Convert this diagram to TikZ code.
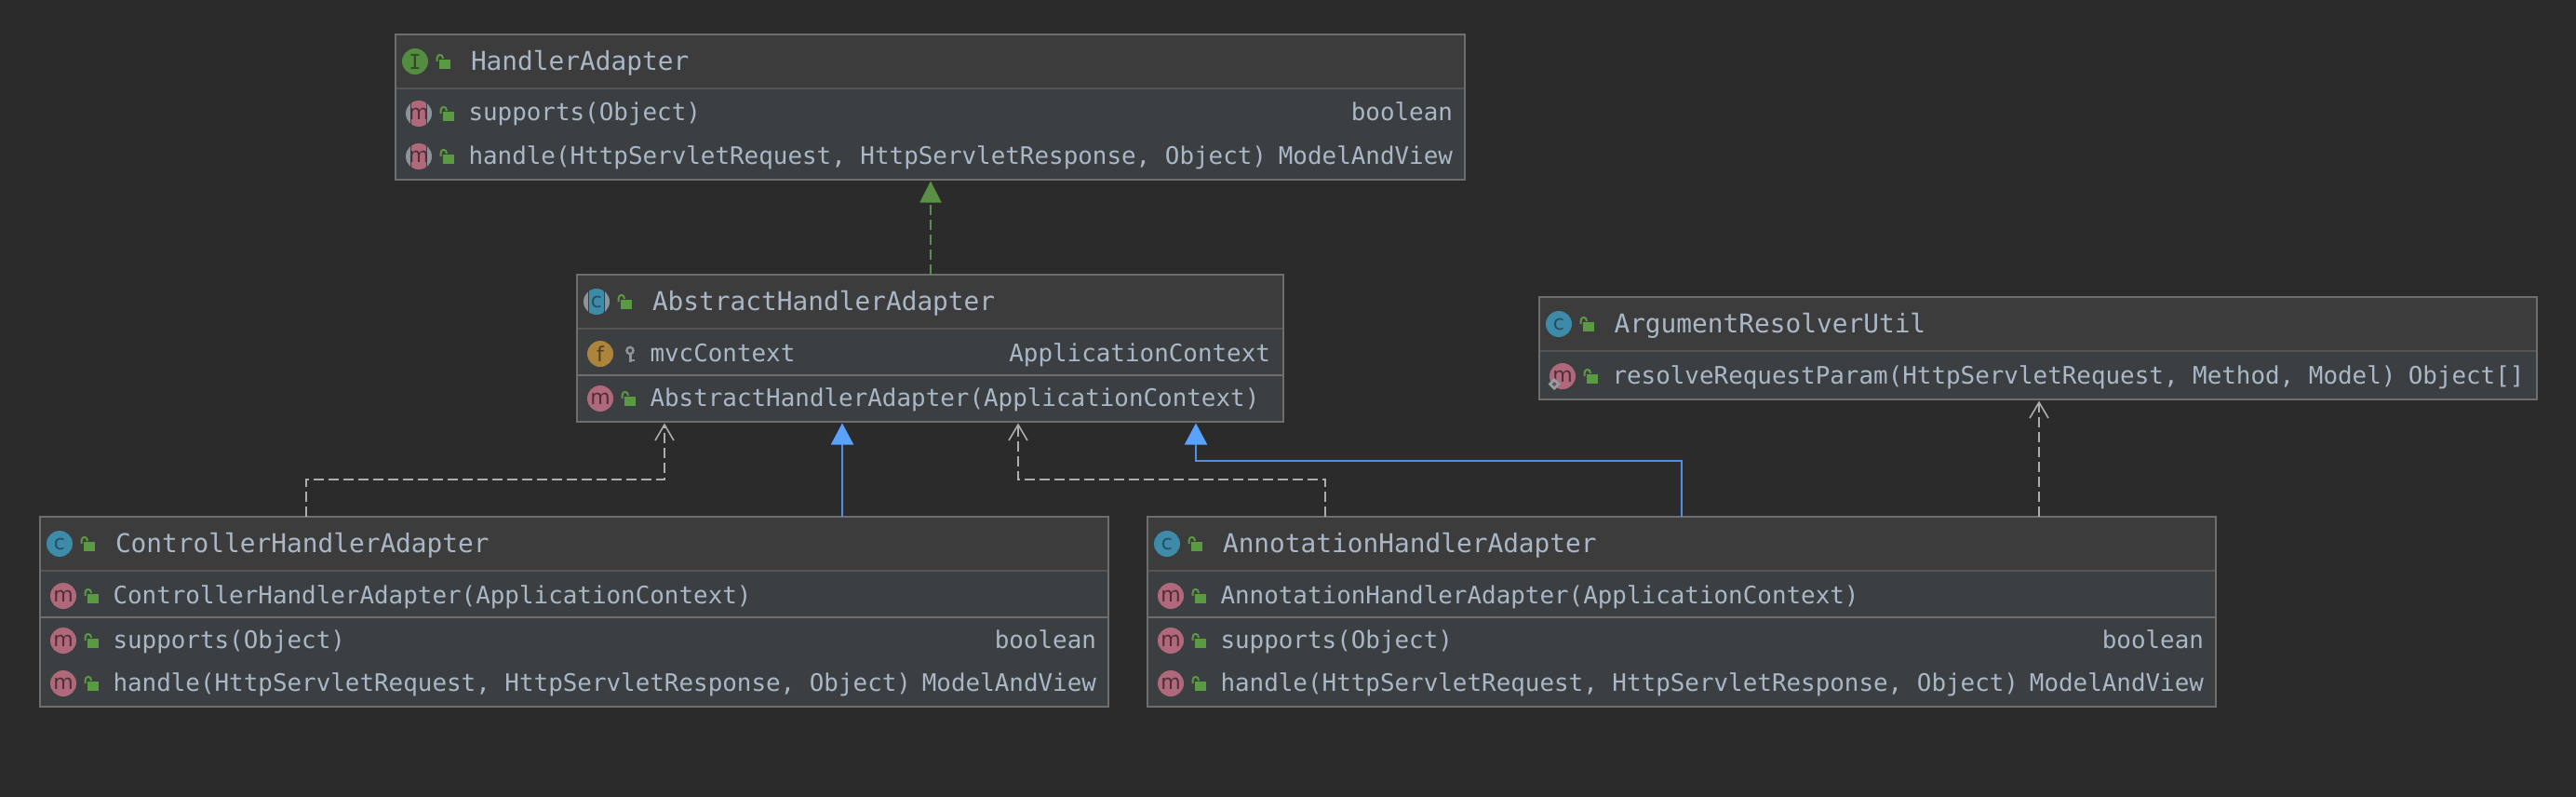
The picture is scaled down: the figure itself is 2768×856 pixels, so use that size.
\documentclass[tikz,border=0pt]{standalone}
\usepackage{fontspec}
\usetikzlibrary{arrows.meta}
\newfontfamily\umono{DejaVu Sans Mono}
\newfontfamily\uicf{DejaVu Sans}
\definecolor{bgc}{HTML}{2B2B2B}
\definecolor{headc}{HTML}{3C3C3C}
\definecolor{bodyc}{HTML}{3C3F41}
\definecolor{borderc}{HTML}{6E6E6E}
\definecolor{sepc}{HTML}{555555}
\definecolor{txtc}{HTML}{A9B7C6}
\definecolor{lockc}{HTML}{5A9A42}
\definecolor{keyc}{HTML}{8A9499}
\definecolor{mcol}{HTML}{B0697B}
\definecolor{mtxt}{HTML}{4F2E37}
\definecolor{ccol}{HTML}{3E8BA9}
\definecolor{ctxt}{HTML}{234F62}
\definecolor{icol}{HTML}{548D3F}
\definecolor{itxt}{HTML}{2E4A24}
\definecolor{fcol}{HTML}{AC843C}
\definecolor{ftxt}{HTML}{52401F}
\definecolor{depc}{HTML}{ADADAD}
\definecolor{bluel}{HTML}{4F8FE6}
\definecolor{bluet}{HTML}{5AA2FF}
\definecolor{greenl}{HTML}{5A8F45}
\tikzset{
  umlbox/.style={draw=borderc,line width=2pt,anchor=north west,inner sep=0pt,outer sep=0pt},
  utext/.style={text=txtc,font=\umono\fontsize{25.9}{30}\selectfont,inner sep=0pt,outer sep=0pt},
  uleft/.style={utext,anchor=base west},
  uright/.style={utext,anchor=base east},
  utitle/.style={utext,anchor=base west,font=\umono\fontsize{27.8}{32}\selectfont},
  iconn/.style={circle,inner sep=0pt,outer sep=0pt,minimum size=28pt},
  icontxt/.style={font=\uicf\fontsize{22}{24}\selectfont},
  dependency/.style={draw=depc,line width=2pt,dash pattern=on 11pt off 5pt,
    -{Straight Barb[length=17pt,width=20pt,line width=1.6pt]},shorten >=1.5pt},
  inherit/.style={draw=bluel,line width=2pt,-{Triangle[length=23pt,width=24pt,fill=bluet,color=bluet]},shorten >=1.5pt},
  realize/.style={draw=greenl,line width=2pt,dash pattern=on 11pt off 5pt,
    -{Triangle[length=23pt,width=23pt,fill=greenl,color=greenl]},shorten >=1.5pt},
  secsep/.style={draw=sepc,line width=2pt},
  secsepb/.style={draw=borderc,line width=2pt},
}
% lock: centre of the icon next to it
\newcommand{\ulock}[2]{%
  \fill[lockc] (#1+26,#2-2) rectangle (#1+38,#2+8);
  \draw[lockc,line width=2pt] (#1+23.5,#2+0) -- (#1+23.5,#2-3)
     .. controls (#1+23.5,#2-8.5) and (#1+30,#2-8.5) .. (#1+30,#2-3);
}
% plain icon: name, x, y, fill, text colour, letter
\newcommand{\uicon}[6]{%
  \node[iconn,fill=#4,text=#5,icontxt] (#1) at (#2,#3) {#6};
  \ulock{#2}{#3}
}
% abstract icon: name, x, y, fill, text colour, letter, ground colour
\newcommand{\aicon}[7]{%
  \fill[keyc] (#2,#3) circle[radius=14pt];
  \fill[#7] (#2-9,#3-15) rectangle (#2+9,#3+15);
  \begin{scope}
    \clip (#2,#3) circle[radius=14pt];
    \fill[#4] (#2-8,#3-15) rectangle (#2+8,#3+15);
  \end{scope}
  \node[iconn,text=#5,icontxt] (#1) at (#2,#3) {#6};
  \ulock{#2}{#3}
}
\begin{document}
\begin{tikzpicture}[x=1pt,y=-1pt]
\fill[bgc] (0,0) rectangle (2768,856);
\useasboundingbox (0,0) rectangle (2768,856);

% ---------- section fills
\fill[headc] (425,37) rectangle (1574,95);
\fill[bodyc] (425,95) rectangle (1574,193);
\fill[headc] (620,295) rectangle (1379,353);
\fill[bodyc] (620,353) rectangle (1379,453);
\fill[headc] (1654,319) rectangle (2726,377);
\fill[bodyc] (1654,377) rectangle (2726,429);
\fill[headc] (43,555) rectangle (1191,613);
\fill[bodyc] (43,613) rectangle (1191,759);
\fill[headc] (1233,555) rectangle (2381,613);
\fill[bodyc] (1233,613) rectangle (2381,759);

% ---------- separators
\draw[secsep] (425,95) -- (1574,95);
\draw[secsep] (620,353) -- (1379,353);
\draw[secsepb] (620,403) -- (1379,403);
\draw[secsep] (1654,377) -- (2726,377);
\draw[secsep] (43,613) -- (1191,613);
\draw[secsepb] (43,663) -- (1191,663);
\draw[secsep] (1233,613) -- (2381,613);
\draw[secsepb] (1233,663) -- (2381,663);

% ---------- class boxes
\node[umlbox,minimum width=1149pt,minimum height=156pt] (ha) at (425,37) {};
\node[umlbox,minimum width=759pt,minimum height=158pt] (abs) at (620,295) {};
\node[umlbox,minimum width=1072pt,minimum height=110pt] (arg) at (1654,319) {};
\node[umlbox,minimum width=1148pt,minimum height=204pt] (ctrl) at (43,555) {};
\node[umlbox,minimum width=1148pt,minimum height=204pt] (ann) at (1233,555) {};

% ---------- HandlerAdapter
\uicon{ha-i}{446}{66}{icol}{itxt}{\umono I}
\node[utitle] (ha-t) at (506,75.5) {HandlerAdapter};
\aicon{ha-m1}{450}{122}{mcol}{mtxt}{m}{bodyc}
\node[uleft] (ha-r1) at (503.5,130) {supports(Object)};
\node[uright] (ha-r1r) at (1561,130) {boolean};
\aicon{ha-m2}{450}{168}{mcol}{mtxt}{m}{bodyc}
\node[uleft] (ha-r2) at (503.5,176) {handle(HttpServletRequest, HttpServletResponse, Object)};
\node[uright] (ha-r2r) at (1561,176) {ModelAndView};

% ---------- AbstractHandlerAdapter
\aicon{abs-c}{641}{324}{ccol}{ctxt}{c}{headc}
\node[utitle] (abs-t) at (701,333.5) {AbstractHandlerAdapter};
\node[iconn,fill=fcol,text=ftxt,icontxt] (abs-f) at (645,380) {f};
\draw[keyc,line width=2.4pt] (677,376.5) circle[radius=3.6pt];
\draw[keyc,line width=3pt] (677,380.5) -- (677,389);
\draw[keyc,line width=2pt] (677,386.5) -- (681.5,386.5);
\node[uleft] (abs-r1) at (698.5,388) {mvcContext};
\node[uright] (abs-r1r) at (1365,388) {ApplicationContext};
\uicon{abs-m}{645}{428}{mcol}{mtxt}{m}
\node[uleft] (abs-r2) at (698.5,436) {AbstractHandlerAdapter(ApplicationContext)};

% ---------- ArgumentResolverUtil
\uicon{arg-c}{1675}{348}{ccol}{ctxt}{c}
\node[utitle] (arg-t) at (1734.5,357.5) {ArgumentResolverUtil};
\uicon{arg-m}{1679}{404}{mcol}{mtxt}{m}
\fill[keyc!90!white] (1670,406) -- (1676.5,412.5) -- (1670,419) -- (1663.5,412.5) -- cycle;
\fill[bodyc!60!mcol] (1670,410) -- (1672.5,412.5) -- (1670,415) -- (1667.5,412.5) -- cycle;
\node[uleft] (arg-r1) at (1732.5,412) {resolveRequestParam(HttpServletRequest, Method, Model)};
\node[uright] (arg-r1r) at (2712.5,412) {Object[]};

% ---------- ControllerHandlerAdapter
\uicon{ctrl-c}{64}{584}{ccol}{ctxt}{c}
\node[utitle] (ctrl-t) at (124,593.5) {ControllerHandlerAdapter};
\uicon{ctrl-m1}{68}{640}{mcol}{mtxt}{m}
\node[uleft] (ctrl-r1) at (121.5,648) {ControllerHandlerAdapter(ApplicationContext)};
\uicon{ctrl-m2}{68}{688}{mcol}{mtxt}{m}
\node[uleft] (ctrl-r2) at (121.5,696) {supports(Object)};
\node[uright] (ctrl-r2r) at (1178,696) {boolean};
\uicon{ctrl-m3}{68}{734}{mcol}{mtxt}{m}
\node[uleft] (ctrl-r3) at (121.5,742) {handle(HttpServletRequest, HttpServletResponse, Object)};
\node[uright] (ctrl-r3r) at (1178,742) {ModelAndView};

% ---------- AnnotationHandlerAdapter
\uicon{ann-c}{1254}{584}{ccol}{ctxt}{c}
\node[utitle] (ann-t) at (1314,593.5) {AnnotationHandlerAdapter};
\uicon{ann-m1}{1258}{640}{mcol}{mtxt}{m}
\node[uleft] (ann-r1) at (1311.5,648) {AnnotationHandlerAdapter(ApplicationContext)};
\uicon{ann-m2}{1258}{688}{mcol}{mtxt}{m}
\node[uleft] (ann-r2) at (1311.5,696) {supports(Object)};
\node[uright] (ann-r2r) at (2368,696) {boolean};
\uicon{ann-m3}{1258}{734}{mcol}{mtxt}{m}
\node[uleft] (ann-r3) at (1311.5,742) {handle(HttpServletRequest, HttpServletResponse, Object)};
\node[uright] (ann-r3r) at (2368,742) {ModelAndView};

% ---------- connector routing points
\coordinate (xg) at (1000,0);
\coordinate (xb1) at (905,0);
\coordinate (c1) at (329,515);
\coordinate (c2) at (714,515);
\coordinate (d1) at (1424,515);
\coordinate (d2) at (1094,515);
\coordinate (e1) at (1807,495);
\coordinate (e2) at (1285,495);
\coordinate (xa) at (2191,0);

% ---------- connectors
\draw[realize] (abs.north -| xg) -- (ha.south -| xg);
\draw[inherit] (ctrl.north -| xb1) -- (abs.south -| xb1);
\draw[dependency] (ctrl.north -| c1) -- (c1) -- (c2) -- (abs.south -| c2);
\draw[dependency] (ann.north -| d1) -- (d1) -- (d2) -- (abs.south -| d2);
\draw[inherit] (ann.north -| e1) -- (e1) -- (e2) -- (abs.south -| e2);
\draw[dependency] (ann.north -| xa) -- (arg.south -| xa);
\end{tikzpicture}
\end{document}
